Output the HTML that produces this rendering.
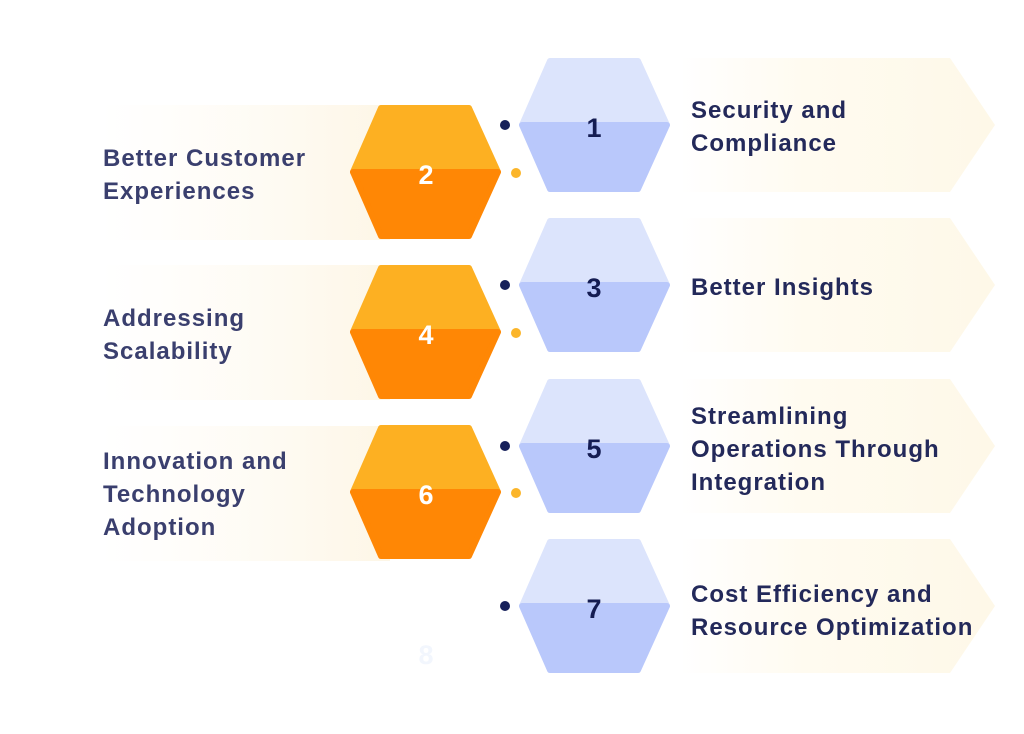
<!DOCTYPE html>
<html><head><meta charset="utf-8"><style>
html,body{margin:0;padding:0;background:#fff;width:1024px;height:734px;overflow:hidden}
svg{display:block}
text{font-family:"Liberation Sans",sans-serif;font-weight:bold}
</style></head><body>
<svg width="1024" height="734" viewBox="0 0 1024 734" xmlns="http://www.w3.org/2000/svg">
<defs>
<linearGradient id="cr" x1="0" x2="1" y1="0" y2="0">
<stop offset="0" stop-color="#fffaf0" stop-opacity="0"/><stop offset="0.4" stop-color="#fffbf0"/><stop offset="1" stop-color="#fef8e8"/></linearGradient>
<linearGradient id="cl" x1="0" x2="1" y1="0" y2="0">
<stop offset="0" stop-color="#fffaf0" stop-opacity="0"/><stop offset="1" stop-color="#fdf6e6"/></linearGradient>
<g id="bh">
<path d="M522,0 L550,-64 L638,-64 L667,0 Z" fill="#dce4fc" stroke="#dce4fc" stroke-width="6" stroke-linejoin="round"/>
<path d="M522,0 L667,0 L638,64 L550,64 Z" fill="#b9c8fb" stroke="#b9c8fb" stroke-width="6" stroke-linejoin="round"/>
</g>
<g id="oh">
<path d="M522,0 L550,-64 L638,-64 L667,0 Z" fill="#fdb022" stroke="#fdb022" stroke-width="6" stroke-linejoin="round"/>
<path d="M522,0 L667,0 L638,64 L550,64 Z" fill="#ff8705" stroke="#ff8705" stroke-width="6" stroke-linejoin="round"/>
</g>
</defs>
<path d="M680,58 L950,58 L995,125 L950,192 L680,192 Z" fill="url(#cr)"/>
<path d="M680,218 L950,218 L995,285 L950,352 L680,352 Z" fill="url(#cr)"/>
<path d="M680,379 L950,379 L995,446 L950,513 L680,513 Z" fill="url(#cr)"/>
<path d="M680,539 L950,539 L995,606 L950,673 L680,673 Z" fill="url(#cr)"/>
<rect x="100" y="105" width="290" height="135" fill="url(#cl)"/>
<rect x="100" y="265" width="290" height="135" fill="url(#cl)"/>
<rect x="100" y="426" width="290" height="135" fill="url(#cl)"/>
<use href="#bh" transform="translate(0,125)"/>
<use href="#bh" transform="translate(0,285)"/>
<use href="#bh" transform="translate(0,446)"/>
<use href="#bh" transform="translate(0,606)"/>
<use href="#oh" transform="translate(-169,172)"/>
<use href="#oh" transform="translate(-169,332)"/>
<use href="#oh" transform="translate(-169,492)"/>
<g fill="#16205a">
<circle cx="505" cy="125" r="5"/><circle cx="505" cy="285" r="5"/><circle cx="505" cy="446" r="5"/><circle cx="505" cy="606" r="5"/></g>
<g fill="#fbb52a"><circle cx="516" cy="173" r="5"/><circle cx="516" cy="333" r="5"/><circle cx="516" cy="493" r="5"/></g>
<g font-size="27" text-anchor="middle" fill="#141c52">
<text x="594" y="137">1</text><text x="594" y="297">3</text><text x="594" y="458">5</text><text x="594" y="618">7</text></g>
<g font-size="27" text-anchor="middle" fill="#fff">
<text x="426" y="184">2</text><text x="426" y="344">4</text><text x="426" y="504">6</text>
<text x="426" y="664" fill="#f2f6fd">8</text></g>
<g font-size="24" letter-spacing="1" fill="#23295a">
<text x="691" y="118">Security and</text><text x="691" y="151">Compliance</text>
<text x="691" y="295">Better Insights</text>
<text x="691" y="424">Streamlining</text><text x="691" y="457">Operations Through</text><text x="691" y="490">Integration</text>
<text x="691" y="602">Cost Efficiency and</text><text x="691" y="635">Resource Optimization</text>
</g>
<g font-size="24" letter-spacing="1" fill="#3a3f6e">
<text x="103" y="166">Better Customer</text><text x="103" y="199">Experiences</text>
<text x="103" y="326">Addressing</text><text x="103" y="359">Scalability</text>
<text x="103" y="469">Innovation and</text><text x="103" y="502">Technology</text><text x="103" y="535">Adoption</text>
</g>
</svg>
</body></html>
